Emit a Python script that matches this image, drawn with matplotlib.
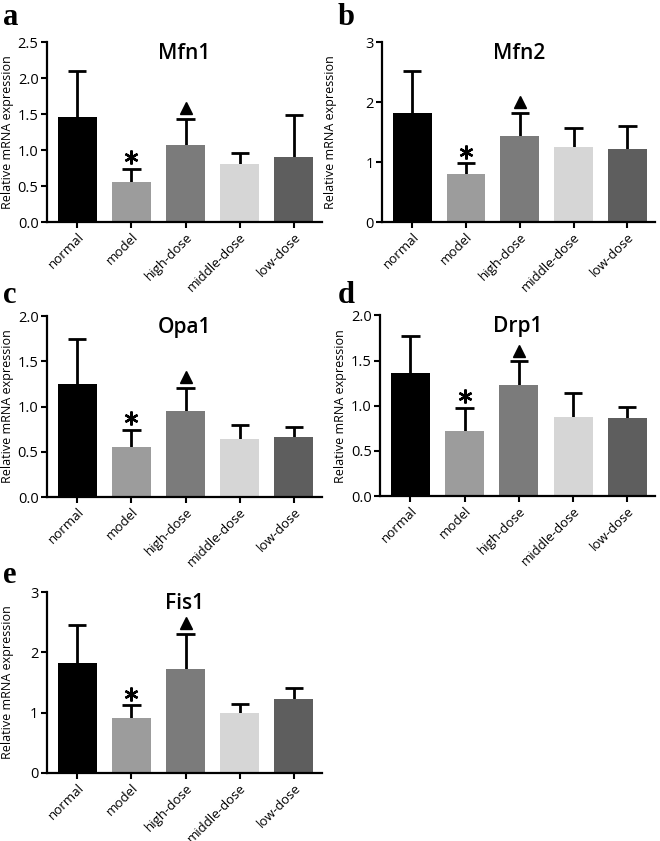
import matplotlib
matplotlib.use("Agg")
import matplotlib.pyplot as plt

plt.rcParams['font.family'] = ['Open Sans', 'DejaVu Sans']

groups = ["normal", "model", "high-dose", "middle-dose", "low-dose"]
bar_colors = ["#000000", "#9c9c9c", "#7b7b7b", "#d6d6d6", "#5e5e5e"]

# mean values and upper error (mean + SD)
mfn1_mean = [1.46, 0.55, 1.07, 0.80, 0.91]
mfn1_top = [2.10, 0.74, 1.43, 0.96, 1.49]
mfn2_mean = [1.82, 0.80, 1.43, 1.25, 1.21]
mfn2_top = [2.52, 0.98, 1.82, 1.57, 1.60]
opa1_mean = [1.25, 0.55, 0.95, 0.64, 0.66]
opa1_top = [1.75, 0.74, 1.21, 0.80, 0.77]
drp1_mean = [1.36, 0.72, 1.23, 0.88, 0.86]
drp1_top = [1.77, 0.98, 1.49, 1.14, 0.99]
fis1_mean = [1.83, 0.91, 1.72, 1.00, 1.22]
fis1_top = [2.46, 1.12, 2.30, 1.15, 1.41]

panels = [
    ("a", "Mfn1", mfn1_mean, mfn1_top, 2.5, [0, 0.5, 1.0, 1.5, 2.0, 2.5], "%.1f"),
    ("b", "Mfn2", mfn2_mean, mfn2_top, 3, [0, 1, 2, 3], "%d"),
    ("c", "Opa1", opa1_mean, opa1_top, 2.0, [0, 0.5, 1.0, 1.5, 2.0], "%.1f"),
    ("d", "Drp1", drp1_mean, drp1_top, 2.0, [0, 0.5, 1.0, 1.5, 2.0], "%.1f"),
    ("e", "Fis1", fis1_mean, fis1_top, 3, [0, 1, 2, 3], "%d"),
]

# axes boxes in figure fractions [left, bottom, width, height]
boxes = [
    [0.071, 0.736, 0.417, 0.214],
    [0.579, 0.736, 0.414, 0.214],
    [0.071, 0.409, 0.417, 0.215],
    [0.576, 0.410, 0.417, 0.215],
    [0.071, 0.081, 0.417, 0.215],
]
letter_pos = [(0.005, 0.996), (0.512, 0.996), (0.005, 0.666), (0.512, 0.666), (0.005, 0.333)]
ylabel_x = [-0.12, -0.165, -0.12, -0.12, -0.12]

fig = plt.figure(figsize=(6.6, 8.41), dpi=100)

for (letter, name, mean, top, ymax, yticks, fmt), box, lp, lx in zip(panels, boxes, letter_pos, ylabel_x):
    ax = fig.add_axes(box)
    x = list(range(len(groups)))
    ax.bar(x, mean, width=0.72, color=bar_colors, zorder=2)
    # upper error bars only, drawn behind the bars
    ax.vlines(x, mean, top, colors='black', linewidth=2, zorder=1)
    ax.hlines(top, [i - 0.17 for i in x], [i + 0.17 for i in x], colors='black', linewidth=2, zorder=1)
    # significance marks
    ax.plot(1, top[1] + 0.065 * ymax, marker=(6, 2, 0), ms=10, mew=1.7, color='black', ls='none')
    ax.plot(2, top[2] + 0.06 * ymax, marker='^', ms=8, color='black', ls='none')

    ax.set_xlim(-0.56, 4.52)
    ax.set_ylim(0, ymax)
    ax.set_yticks(yticks)
    ax.set_yticklabels([fmt % v for v in yticks], fontsize=10.5)
    ax.set_xticks(x)
    ax.set_xticklabels(groups, rotation=45, ha='right', rotation_mode='anchor', fontsize=9.5)
    ax.tick_params(axis='both', width=1.5, length=4, direction='out', pad=2)
    for s in ['top', 'right']:
        ax.spines[s].set_visible(False)
    for s in ['left', 'bottom']:
        ax.spines[s].set_linewidth(1.6)
    ax.set_ylabel("Relative mRNA expression", fontsize=9)
    ax.yaxis.set_label_coords(lx, 0.5)
    ax.set_title(name, fontsize=15, fontweight='semibold', y=0.86)
    fig.text(lp[0], lp[1], letter, fontsize=22, fontweight='bold',
             family='Liberation Serif', va='top', ha='left')

fig.savefig("out.png", dpi=100)
